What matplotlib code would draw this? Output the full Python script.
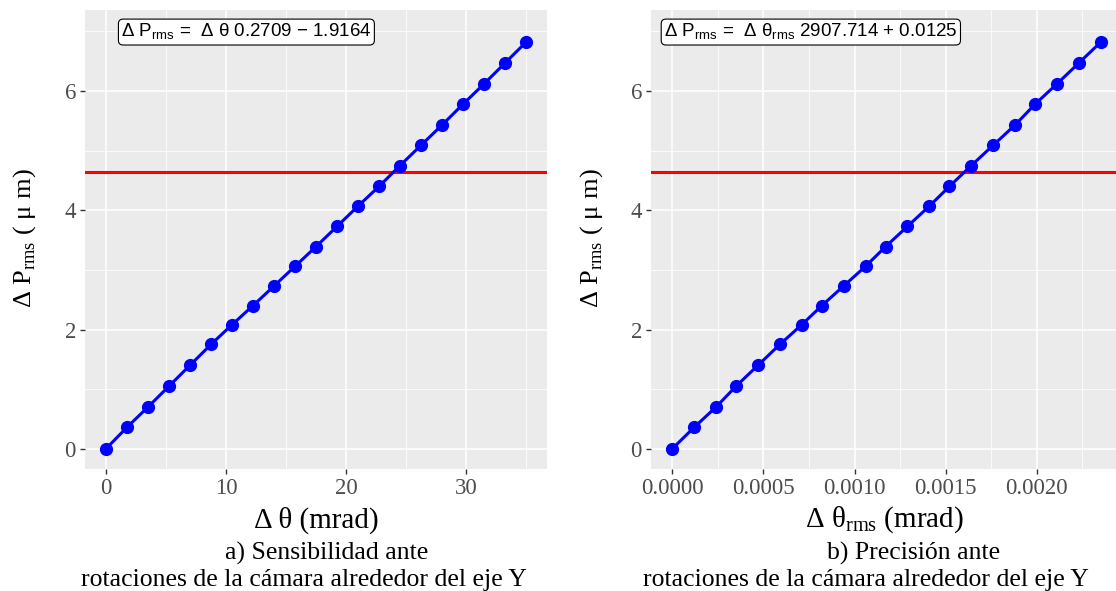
import numpy as np
import matplotlib.pyplot as plt

# data
theta = [0, 1.75, 3.5, 5.25, 7, 8.75, 10.5, 12.25, 14, 15.75, 17.5,
         19.25, 21, 22.75, 24.5, 26.25, 28, 29.75, 31.5, 33.25, 35]
theta_rms = [0, 0.00012, 0.00024, 0.00035, 0.00047, 0.00059, 0.00071,
             0.00082, 0.00094, 0.00106, 0.00117, 0.00129, 0.00141, 0.00152,
             0.00164, 0.00176, 0.00188, 0.00199, 0.00211, 0.00223, 0.00235]
p_rms = [0, 0.36, 0.70, 1.05, 1.40, 1.75, 2.08, 2.40, 2.73, 3.06, 3.39,
         3.73, 4.07, 4.40, 4.75, 5.09, 5.43, 5.78, 6.12, 6.47, 6.82]
p_limit = 4.65

eq_a = r'Δ P$_{\mathsf{rms}}$ =  Δ θ 0.2709 − 1.9164'
eq_b = r'Δ P$_{\mathsf{rms}}$ =  Δ θ$_{\mathsf{rms}}$ 2907.714 + 0.0125'
ylab = r'Δ P$_{\mathrm{rms}}$ ( μ m)'
xlab_a = 'Δ θ (mrad)'
xlab_b = r'Δ θ$_{\mathrm{rms}}$ (mrad)'
cap_a = ['a) Sensibilidad ante', 'rotaciones de la cámara alrededor del eje Y']
cap_b = ['b) Precisión ante', 'rotaciones de la cámara alrededor del eje Y']

plt.rcParams['font.family'] = ['Liberation Serif', 'DejaVu Serif']
plt.rcParams['mathtext.fontset'] = 'custom'
plt.rcParams['mathtext.rm'] = 'Liberation Serif'
plt.rcParams['mathtext.sf'] = 'Liberation Sans'

fig = plt.figure(figsize=(11.16, 5.91), dpi=100)
ax1 = fig.add_axes([85 / 1116, 1 - 469 / 591, 462 / 1116, 459 / 591])
ax2 = fig.add_axes([651 / 1116, 1 - 469 / 591, 471 / 1116, 459 / 591])


def style(ax, xmaj, xmin):
    ax.set_facecolor('#EBEBEB')
    for s in ax.spines.values():
        s.set_visible(False)
    ax.set_xticks(xmaj)
    ax.set_xticks(xmin, minor=True)
    ax.set_yticks([0, 2, 4, 6])
    ax.set_yticks([1, 3, 5, 7], minor=True)
    ax.grid(which='major', color='white', lw=1.1)
    ax.grid(which='minor', color='white', lw=0.55)
    ax.set_axisbelow(True)
    ax.tick_params(which='major', length=3.5, width=1, color='#333333',
                   labelcolor='#4D4D4D', labelsize=16.5, pad=3)
    ax.tick_params(which='minor', length=0)
    ax.set_ylim(-0.34, 7.36)


style(ax1, [0, 10, 20, 30], [5, 15, 25, 35])
style(ax2, [0, 0.0005, 0.0010, 0.0015, 0.0020],
      [0.00025, 0.00075, 0.00125, 0.00175, 0.00225])
ax1.set_xlim(-1.75, 36.75)
ax2.set_xlim(-0.000117, 0.002467)
ax2.xaxis.set_major_formatter(plt.FormatStrFormatter('%.4f'))

for ax, xs, eq, ex in [(ax1, theta, eq_a, 11.7), (ax2, theta_rms, eq_b, 0.00076)]:
    ax.axhline(p_limit, color='red', lw=2.2, zorder=2)
    ax.plot(xs, p_rms, color='blue', lw=2.2, marker='o', ms=8.5, zorder=3)
    ax.text(ex, 6.99, eq, ha='center', va='center', fontsize=13.5,
            family=['Liberation Sans', 'DejaVu Sans'],
            bbox=dict(boxstyle='round,pad=0.15,rounding_size=0.25',
                      fc='white', ec='black', lw=0.8))

# axis titles and captions
fig.text(316 / 1116, 1 - 520 / 591, xlab_a, ha='center', va='center', fontsize=21)
fig.text(884 / 1116, 1 - 520 / 591, xlab_b, ha='center', va='center', fontsize=21)
fig.text(25 / 1116, 1 - 238 / 591, ylab, ha='center', va='center',
         rotation=90, fontsize=19)
fig.text(592 / 1116, 1 - 238 / 591, ylab, ha='center', va='center',
         rotation=90, fontsize=19)
fig.text(327 / 1116, 1 - 553 / 591, cap_a[0], ha='center', va='center', fontsize=18.5)
fig.text(304 / 1116, 1 - 580 / 591, cap_a[1], ha='center', va='center', fontsize=18.5)
fig.text(914 / 1116, 1 - 553 / 591, cap_b[0], ha='center', va='center', fontsize=18.5)
fig.text(866 / 1116, 1 - 580 / 591, cap_b[1], ha='center', va='center', fontsize=18.5)

fig.savefig('out.png', dpi=100)
